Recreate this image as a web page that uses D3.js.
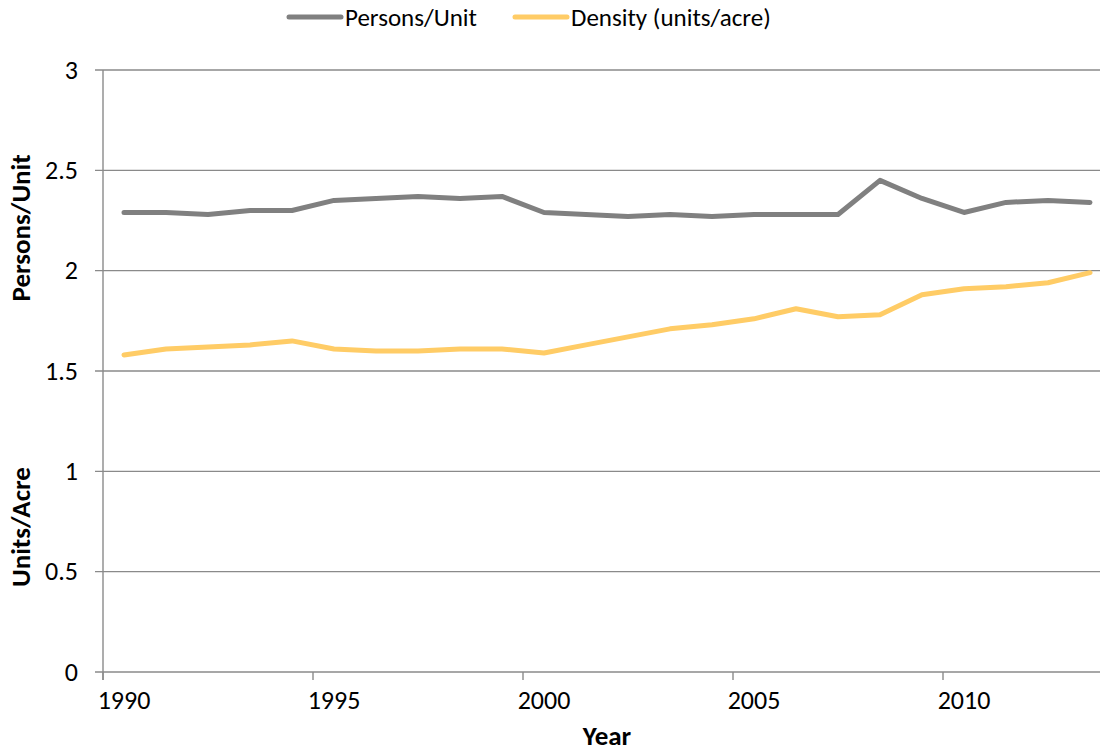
<!DOCTYPE html>
<html>
<head>
<meta charset="utf-8">
<script src="https://cdn.jsdelivr.net/npm/d3@7"></script>
<style>
  html, body { margin: 0; padding: 0; background: #fff; }
  svg { display: block; font-family: Carlito, Calibri, Lato, "Open Sans", sans-serif; }
</style>
</head>
<body>
<svg id="chart" width="1100" height="751"></svg>
<script>
// Years on the category axis
const years = d3.range(1990, 2014).map(String);
// Average household size (persons per housing unit)
const personsPerUnit = [2.29, 2.29, 2.28, 2.30, 2.30, 2.35, 2.36, 2.37, 2.36, 2.37, 2.29, 2.28,
                        2.27, 2.28, 2.27, 2.28, 2.28, 2.28, 2.45, 2.36, 2.29, 2.34, 2.35, 2.34];
// Residential density (units per acre)
const unitsPerAcre = [1.58, 1.61, 1.62, 1.63, 1.65, 1.61, 1.60, 1.60, 1.61, 1.61, 1.59, 1.63,
                      1.67, 1.71, 1.73, 1.76, 1.81, 1.77, 1.78, 1.88, 1.91, 1.92, 1.94, 1.99];
const yTicks = [0, 0.5, 1, 1.5, 2, 2.5, 3];
const labeledYears = ["1990", "1995", "2000", "2005", "2010"];
const seriesNames = ["Persons/Unit", "Density (units/acre)"];

const svg = d3.select("#chart");
const plotLeft = 103, plotRight = 1111, plotTop = 70, plotBottom = 672;

const x = d3.scaleBand().domain(years).range([plotLeft, plotRight]).paddingInner(0).paddingOuter(0);
const y = d3.scaleLinear().domain([0, 3]).range([plotBottom, plotTop]);

const gridColor = "#8a8a8a";
const lineColors = ["#808080", "#ffcc66"];
const fontStack = "Carlito, Calibri, Lato, sans-serif";

// Horizontal gridlines with small outward ticks on the left
svg.append("g").selectAll("line").data(yTicks).join("line")
  .attr("x1", plotLeft - 8).attr("x2", 1100)
  .attr("y1", d => y(d)).attr("y2", d => y(d))
  .attr("stroke", gridColor).attr("stroke-width", 1.4);

// Vertical value axis line
svg.append("line")
  .attr("x1", plotLeft).attr("x2", plotLeft).attr("y1", plotTop).attr("y2", plotBottom + 8)
  .attr("stroke", gridColor).attr("stroke-width", 1.4);

// Y tick labels
const yAxis = svg.append("g")
  .attr("transform", `translate(${plotLeft - 25},0)`)
  .call(d3.axisLeft(y).tickValues(yTicks).tickSize(0).tickPadding(0)
        .tickFormat(d => d3.format("")(d)));
yAxis.select(".domain").remove();
yAxis.selectAll("text").attr("font-size", 26).attr("fill", "#000")
  .attr("font-family", fontStack);

// Category tick marks at band boundaries, every 5 years
svg.append("g").selectAll("line").data(labeledYears).join("line")
  .attr("x1", d => x(d)).attr("x2", d => x(d))
  .attr("y1", plotBottom).attr("y2", plotBottom + 8)
  .attr("stroke", gridColor).attr("stroke-width", 1.4);

// X labels centred on their categories
const xAxis = svg.append("g")
  .attr("transform", `translate(0,${plotBottom + 19})`)
  .call(d3.axisBottom(x).tickValues(labeledYears).tickSize(0).tickPadding(0));
xAxis.select(".domain").remove();
xAxis.selectAll("text").attr("font-size", 26).attr("fill", "#000")
  .attr("font-family", fontStack);

// Data lines
const line = d3.line()
  .x((d, i) => x(years[i]) + x.bandwidth() / 2)
  .y(d => y(d));

[personsPerUnit, unitsPerAcre].forEach((vals, k) => {
  svg.append("path")
    .datum(vals)
    .attr("d", line)
    .attr("fill", "none")
    .attr("stroke", lineColors[k])
    .attr("stroke-width", 5)
    .attr("stroke-linejoin", "round")
    .attr("stroke-linecap", "round");
});

// Axis titles
svg.append("text")
  .attr("x", (plotLeft + plotRight) / 2).attr("y", 745)
  .attr("text-anchor", "middle").attr("font-size", 27).attr("font-weight", "bold")
  .text("Year");

svg.append("text")
  .attr("transform", "translate(30,228) rotate(-90)")
  .attr("text-anchor", "middle").attr("font-size", 27).attr("font-weight", "bold")
  .text("Persons/Unit");

svg.append("text")
  .attr("transform", "translate(30,527) rotate(-90)")
  .attr("text-anchor", "middle").attr("font-size", 27).attr("font-weight", "bold")
  .text("Units/Acre");

// Legend
const legendItems = [
  { name: seriesNames[0], color: lineColors[0], x0: 289 },
  { name: seriesNames[1], color: lineColors[1], x0: 515 }
];
const legend = svg.append("g");
legendItems.forEach(it => {
  legend.append("line")
    .attr("x1", it.x0).attr("x2", it.x0 + 52).attr("y1", 17).attr("y2", 17)
    .attr("stroke", it.color).attr("stroke-width", 5).attr("stroke-linecap", "round");
  legend.append("text")
    .attr("x", it.x0 + 56).attr("y", 26)
    .attr("font-size", 25).attr("fill", "#000")
    .text(it.name);
});
</script>
</body>
</html>
